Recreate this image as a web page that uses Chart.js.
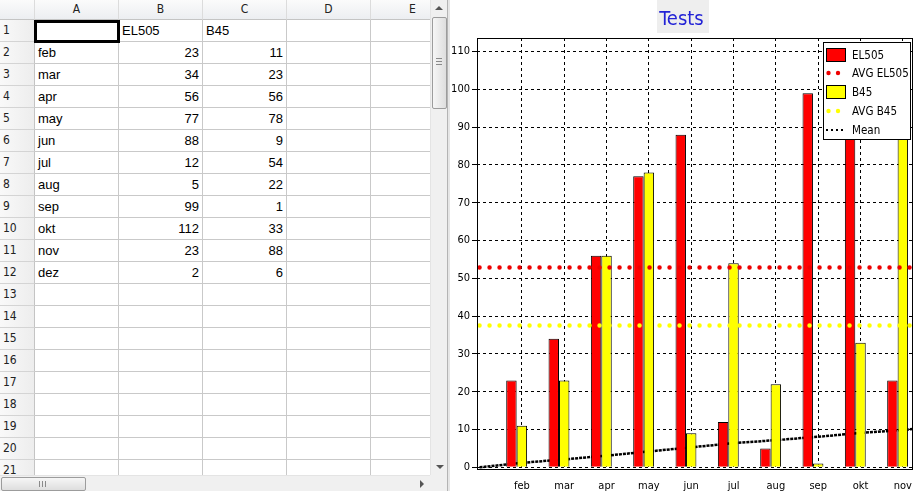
<!DOCTYPE html>
<html>
<head>
<meta charset="utf-8">
<script src="https://cdn.jsdelivr.net/npm/chart.js@4.4.0/dist/chart.umd.min.js"></script>
<style>
body { margin: 0; width: 917px; height: 491px; overflow: hidden; background: #fff; position: relative;
       font-family: "Liberation Sans", Arial, sans-serif; }
#sheet { position: absolute; left: 0; top: 0; width: 430px; height: 475px; overflow: hidden; background: #fff; }
.c { position: absolute; box-sizing: border-box; border-right: 1px solid #c9c9c9; border-bottom: 1px solid #c9c9c9;
     font-size: 13px; line-height: 21px; padding: 0 3px; white-space: nowrap; overflow: hidden; color: #000; }
.num { text-align: right; }
.hd { background: linear-gradient(#fbfbfb, #eceef1); border-right-color: #dcdcdc; border-bottom-color: #c4c4c4;
      font-family: "DejaVu Sans Condensed", "Liberation Sans", sans-serif; font-size: 12px; color: #222;
      text-align: center; line-height: 19px; }
.rh { background: linear-gradient(to right, #f9f9f9, #ededed); border-right-color: #c4c4c4; border-bottom-color: #d4d4d4;
      font-family: "DejaVu Sans Condensed", "Liberation Sans", sans-serif; font-size: 12px; color: #222;
      text-align: left; padding-left: 3px; }
#sel { position: absolute; left: 34px; top: 20px; width: 86px; height: 23px; box-sizing: border-box; border: 3px solid #000; }
#vscroll { position: absolute; left: 430px; top: 0; width: 17px; height: 475px; background: #f0f0f0; border-left: 1px solid #e4e4e4; box-sizing: border-box; }
#hscroll { position: absolute; left: 0; top: 475px; width: 430px; height: 16px; background: #f0f0f0; border-top: 1px solid #e4e4e4; box-sizing: border-box; }
#corner { position: absolute; left: 430px; top: 475px; width: 17px; height: 16px; background: #f0f0f0; }
#divider { position: absolute; left: 447px; top: 0; width: 3px; height: 491px; background: #e6e6e6; border-left: 1px solid #b4b4b4; box-sizing: border-box; }
.thumb { position: absolute; box-sizing: border-box; border: 1px solid #9c9c9c; border-radius: 2px;
         background: linear-gradient(to right, #f6f6f6, #dedede); }
.hthumb { background: linear-gradient(#f6f6f6, #dedede); }
.grip { position: absolute; background: #8a8a8a; }
.tri { position: absolute; width: 0; height: 0; }
#chartBox { position: absolute; left: 450px; top: 0; width: 467px; height: 491px; background: #fff; }
</style>
</head>
<body>
<div id="sheet"></div>
<div id="vscroll">
  <div class="tri" style="left:4px;top:6px;border-left:4px solid transparent;border-right:4px solid transparent;border-bottom:4px solid #555;"></div>
  <div class="thumb" style="left:1px;top:17px;width:15px;height:92px;"></div>
  <div class="grip" style="left:5px;top:58px;width:6px;height:1px;"></div>
  <div class="grip" style="left:5px;top:61px;width:6px;height:1px;"></div>
  <div class="grip" style="left:5px;top:64px;width:6px;height:1px;"></div>
  <div class="tri" style="left:5px;top:465px;border-left:4px solid transparent;border-right:4px solid transparent;border-top:4px solid #555;"></div>
</div>
<div id="hscroll">
  <div class="thumb hthumb" style="left:1px;top:1px;width:85px;height:14px;"></div>
  <div class="grip" style="left:39px;top:5px;width:1px;height:6px;"></div>
  <div class="grip" style="left:42px;top:5px;width:1px;height:6px;"></div>
  <div class="grip" style="left:45px;top:5px;width:1px;height:6px;"></div>
  <div class="tri" style="left:420px;top:4px;border-top:4px solid transparent;border-bottom:4px solid transparent;border-left:4px solid #555;"></div>
</div>
<div id="corner"></div>
<div id="divider"></div>
<div id="chartBox"><canvas id="testsChart"></canvas></div>

<script>
// sheet contents
const months = ['feb', 'mar', 'apr', 'may', 'jun', 'jul', 'aug', 'sep', 'okt', 'nov', 'dez'];
const seriesNames = ['EL505', 'B45'];
const el505 = [23, 34, 56, 77, 88, 12, 5, 99, 112, 23, 2];
const b45 = [11, 23, 56, 78, 9, 54, 22, 1, 33, 88, 6];
const colLetters = ['A', 'B', 'C', 'D', 'E'];

// the chart is bound to rows 2..11 (feb..nov)
const chartMonths = months.slice(0, 10);
const chartEl505 = el505.slice(0, 10);
const chartB45 = b45.slice(0, 10);

// "Mean" series, at jan..dez positions
const meanPos = [-1, 0, 1, 2, 3, 4, 5, 6, 7, 8, 9, 10];
const meanValues = [0, 1.2, 2.1, 3.1, 4.2, 5.3, 6.4, 7.2, 8.1, 9.1, 9.9, 10.9];

const yTicks = [0, 10, 20, 30, 40, 50, 60, 70, 80, 90, 100, 110];
const yRange = [-0.7, 113.6];
const xRange = [-1.06, 9.24];

// ---- spreadsheet ----
const sheet = document.getElementById('sheet');
const colX = [0, 35, 119, 203, 287, 371, 455];
const HEAD = 20, ROW = 22;

function cell(x, y, w, h, cls, text) {
    const d = document.createElement('div');
    d.className = cls;
    d.style.left = x + 'px';
    d.style.top = y + 'px';
    d.style.width = w + 'px';
    d.style.height = h + 'px';
    d.textContent = text;
    sheet.appendChild(d);
}

cell(0, 0, colX[1], HEAD, 'c hd', '');
colLetters.forEach((l, i) => cell(colX[i + 1], 0, colX[i + 2] - colX[i + 1], HEAD, 'c hd', l));

for (let r = 1; r <= 21; r++) {
    const y = HEAD + (r - 1) * ROW;
    cell(0, y, colX[1], ROW, 'c rh', String(r));
    const vals = ['', '', '', '', ''];
    if (r === 1) {
        vals[1] = seriesNames[0];
        vals[2] = seriesNames[1];
    } else if (r - 2 < months.length) {
        vals[0] = months[r - 2];
        vals[1] = el505[r - 2];
        vals[2] = b45[r - 2];
    }
    vals.forEach((v, i) => {
        cell(colX[i + 1], y, colX[i + 2] - colX[i + 1], ROW, typeof v === 'number' ? 'c num' : 'c', v);
    });
}
const sel = document.createElement('div');
sel.id = 'sel';
sheet.appendChild(sel);

// ---- chart ----
const avg = arr => arr.reduce((a, b) => a + b, 0) / arr.length;
const toPoints = vals => vals.map((v, i) => ({ x: i, y: v }));
const flatLine = value => meanPos.map(x => ({ x: x, y: value }));

const FONT = '"DejaVu Sans Condensed", "Liberation Sans", sans-serif';
Chart.defaults.font.family = FONT;
Chart.defaults.font.size = 11;
Chart.defaults.color = '#000';

const chartDecor = {
    id: 'chartDecor',
    beforeDraw(chart) {
        // grey box behind the title
        const ctx = chart.ctx;
        ctx.save();
        ctx.font = '20px ' + FONT;
        const w = ctx.measureText('Tests').width + 8;
        ctx.fillStyle = '#eeeeee';
        ctx.fillRect(Math.round(chart.width / 2 - w / 2), 0, Math.round(w), 33);
        ctx.restore();
    },
    afterDatasetsDraw(chart) {
        const { ctx, chartArea: a } = chart;
        ctx.save();
        ctx.strokeStyle = '#000';
        ctx.lineWidth = 1;
        ctx.strokeRect(a.left + 0.5, a.top + 0.5, a.right - a.left - 1, a.bottom - a.top - 1);

        // legend box
        const bx = Math.round(a.right - 90), by = Math.round(a.top + 4), bw = 88, bh = 98;
        ctx.fillStyle = '#fff';
        ctx.fillRect(bx, by, bw, bh);
        ctx.strokeRect(bx + 0.5, by + 0.5, bw - 1, bh - 1);
        ctx.font = '11.5px ' + FONT;
        ctx.textBaseline = 'middle';
        const items = chart.data.datasets.filter(d => d.label);
        items.forEach((d, i) => {
            const y = Math.round(by + 12.5 + i * 18.8);
            if (d.type !== 'line') {
                ctx.fillStyle = d.backgroundColor;
                ctx.fillRect(bx + 3, y - 7, 20, 14);
                ctx.strokeRect(bx + 3.5, y - 6.5, 19, 13);
            } else if (d.borderCapStyle === 'round') {
                ctx.fillStyle = d.borderColor;
                [5.5, 15].forEach(dx => {
                    ctx.beginPath();
                    ctx.arc(bx + dx, y, 2.2, 0, Math.PI * 2);
                    ctx.fill();
                });
            } else {
                ctx.beginPath();
                ctx.setLineDash([2, 3]);
                ctx.lineWidth = 2;
                ctx.strokeStyle = d.borderColor;
                ctx.moveTo(bx + 3, y);
                ctx.lineTo(bx + 23, y);
                ctx.stroke();
                ctx.setLineDash([]);
                ctx.lineWidth = 1;
                ctx.strokeStyle = '#000';
            }
            ctx.fillStyle = '#000';
            ctx.fillText(d.label, bx + 29, y + 1);
        });
        ctx.restore();
    }
};

const ctx = document.getElementById('testsChart').getContext('2d');
new Chart(ctx, {
    type: 'bar',
    data: {
        datasets: [
            { label: seriesNames[0], data: toPoints(chartEl505), backgroundColor: '#ff0000',
              borderColor: '#000', borderWidth: 1, order: 2 },
            { type: 'line', label: 'AVG ' + seriesNames[0], data: flatLine(avg(chartEl505)),
              borderColor: '#ee0000', borderWidth: 4.5, borderDash: [0, 10], borderCapStyle: 'round',
              pointRadius: 0, order: 1 },
            { label: seriesNames[1], data: toPoints(chartB45), backgroundColor: '#ffff00',
              borderColor: '#000', borderWidth: 1, order: 2 },
            { type: 'line', label: 'AVG ' + seriesNames[1], data: flatLine(avg(chartB45)),
              borderColor: '#ffff00', borderWidth: 4.5, borderDash: [0, 10], borderCapStyle: 'round',
              pointRadius: 0, order: 1 },
            // empty third slot: the source chart reserves it beside each pair
            { label: '', data: [], order: 2 },
            { type: 'line', label: 'Mean', data: meanPos.map((x, i) => ({ x: x, y: meanValues[i] })),
              borderColor: '#000', borderWidth: 2.5, borderDash: [3, 1], pointRadius: 0, order: 3 }
        ]
    },
    options: {
        responsive: true,
        maintainAspectRatio: false,
        animation: false,
        categoryPercentage: 0.74,
        barPercentage: 1,
        layout: { padding: { left: 0, right: 4, top: 0, bottom: 0 } },
        plugins: {
            legend: { display: false },
            tooltip: { enabled: false },
            title: {
                display: true,
                text: 'Tests',
                color: '#2323d6',
                font: { family: FONT, size: 20, weight: 'normal' },
                padding: { top: 8, bottom: 6 }
            }
        },
        scales: {
            x: {
                type: 'linear',
                min: xRange[0],
                max: xRange[1],
                offset: false,
                afterBuildTicks: scale => { scale.ticks = chartMonths.map((m, i) => ({ value: i })); },
                afterFit: scale => {
                    scale.height = 21;
                    scale.paddingLeft = 0;
                    scale.paddingRight = 0;
                },
                ticks: { callback: v => chartMonths[Math.round(v)], autoSkip: false, maxRotation: 0, padding: 10 },
                grid: { color: '#000', offset: false, drawTicks: false, borderDash: [3, 3] },
                border: { display: false, dash: [3, 3] }
            },
            y: {
                min: yRange[0],
                max: yRange[1],
                afterBuildTicks: scale => { scale.ticks = yTicks.map(v => ({ value: v })); },
                afterFit: scale => {
                    scale.width = 27;
                    scale.paddingTop = 0;
                    scale.paddingBottom = 0;
                },
                ticks: { padding: 2 },
                grid: { color: '#000', tickLength: 5, tickColor: '#000', borderDash: [3, 3] },
                border: { display: false, dash: [3, 3] }
            }
        }
    },
    plugins: [chartDecor]
});
</script>
</body>
</html>
